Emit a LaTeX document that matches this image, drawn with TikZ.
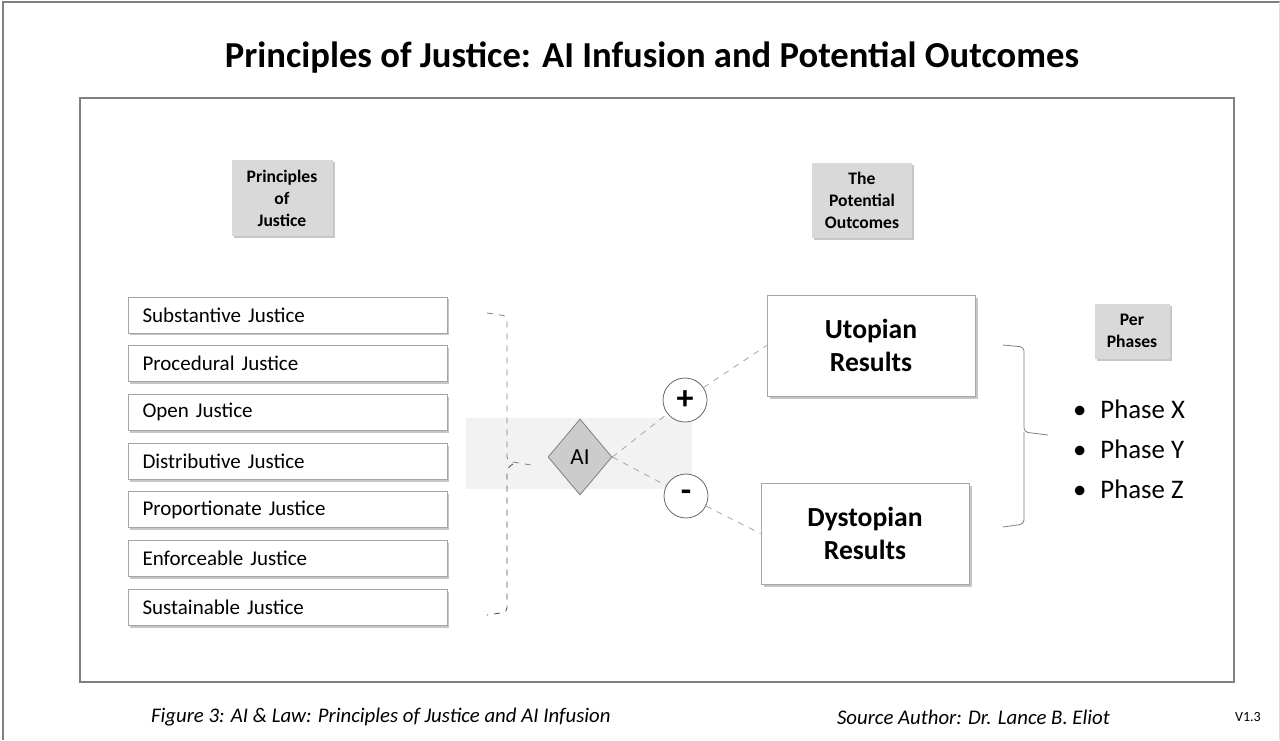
\documentclass[tikz,border=0pt]{standalone}
\usepackage{fontspec}
\setmainfont{Carlito}
\usetikzlibrary{shapes.geometric,shadows}

\tikzset{
  header/.style={fill=gray!30,align=center,font=\bfseries\fontsize{8.8}{11}\selectfont,
    drop shadow={opacity=0.45,shadow xshift=1.2pt,shadow yshift=-1.2pt}},
  principle/.style={draw=gray!70,fill=white,minimum width=159.5pt,minimum height=18pt,
    text width=145pt,align=left,font=\fontsize{10.5}{12}\selectfont,
    drop shadow={opacity=0.45,shadow xshift=1.2pt,shadow yshift=-1.2pt}},
  outcome/.style={draw=gray!70,fill=white,minimum width=104pt,minimum height=50.5pt,
    align=center,font=\bfseries\fontsize{13.8}{16.5}\selectfont,
    drop shadow={opacity=0.45,shadow xshift=1.5pt,shadow yshift=-1.5pt}},
  sign/.style={circle,draw=gray!80!black,fill=white,minimum size=22pt,inner sep=0pt,
    font=\bfseries\fontsize{17}{17}\selectfont},
  link/.style={dashed,gray!70,thin}
}

\begin{document}
\begin{tikzpicture}[x=0.5pt,y=-0.5pt]
 \useasboundingbox (0,0) rectangle (1280,740);
 % frames
 \draw[gray,line width=0.8pt] (3,740) -- (3,2) -- (1280,2);
 \draw[gray!25] (1279,2) -- (1279,740);
 \draw[gray,line width=0.7pt] (80,98) rectangle (1234,682);
 \node (title) at (652,58) {\bfseries\fontsize{18.3}{21}\selectfont Principles of Justice: AI Infusion and Potential Outcomes};

 % headers
 \node[header,minimum width=50.5pt,minimum height=38pt] (hpj) at (282,198) {Principles\\of\\Justice};
 \node[header,minimum width=50pt,minimum height=37.5pt] (hpo) at (862,200) {The\\Potential\\Outcomes};
 \node[header,minimum width=37.5pt,minimum height=27.5pt] (hpp) at (1132,331) {Per\\Phases};

 % the principles
 \foreach \lbl [count=\i] in {Substantive Justice,Procedural Justice,Open Justice,Distributive Justice,
     Proportionate Justice,Enforceable Justice,Sustainable Justice}
   \node[principle] (p\i) at (287.5,{315+48.7*(\i-1)}) {\lbl};

 % AI in the middle
 \fill[gray!10] (466,418) rectangle (692,489);
 \draw[gray,dashed,thin,rounded corners=2pt] (487,313) -- (507,316) -- (507,461) -- (531,465);
 \draw[gray!60!black,dashed,thin,rounded corners=2pt] (513,464) -- (507,468) -- (507,612) -- (487,615);
 \node[diamond,draw=gray,fill=gray!40,minimum width=32pt,minimum height=38pt,inner sep=0pt,
   font=\fontsize{11.5}{11.5}\selectfont] (ai) at (580,457) {AI};

 % outcomes
 \node[outcome] (uto) at (871,345.5) {Utopian\\Results};
 \node[outcome] (dys) at (865,533.5) {Dystopian\\Results};
 \node[sign] (plus) at (685,400) {+};
 \node[sign] (minus) at (686,496) {-};
 \draw[link] (ai.east) -- (plus) -- (uto.west);
 \draw[link] (ai.east) -- (minus) -- (dys.west);

 % phases
 \draw[gray,thin,rounded corners=2pt] (1003,345) -- (1024,347) -- (1024,432) -- (1048,435)
   (1024,432) -- (1024,438) -- (1024,524) -- (1003,527);
 \foreach \ph [count=\j] in {X,Y,Z}
   \node[anchor=west,font=\fontsize{13.4}{15}\selectfont] (ph\j) at (1066,{409+40*(\j-1)}) {\textbullet\hspace{7pt}Phase \ph};

 % footer
 \node[anchor=west,font=\itshape\fontsize{10.4}{12}\selectfont] (fig) at (144,717) {Figure 3: AI \& Law: Principles of Justice and AI Infusion};
 \node[anchor=west,font=\itshape\fontsize{10.4}{12}\selectfont] (src) at (830,717) {Source Author: Dr. Lance B. Eliot};
 \node[font=\fontsize{7}{8}\selectfont] (ver) at (1248,717) {V1.3};
\end{tikzpicture}
\end{document}
